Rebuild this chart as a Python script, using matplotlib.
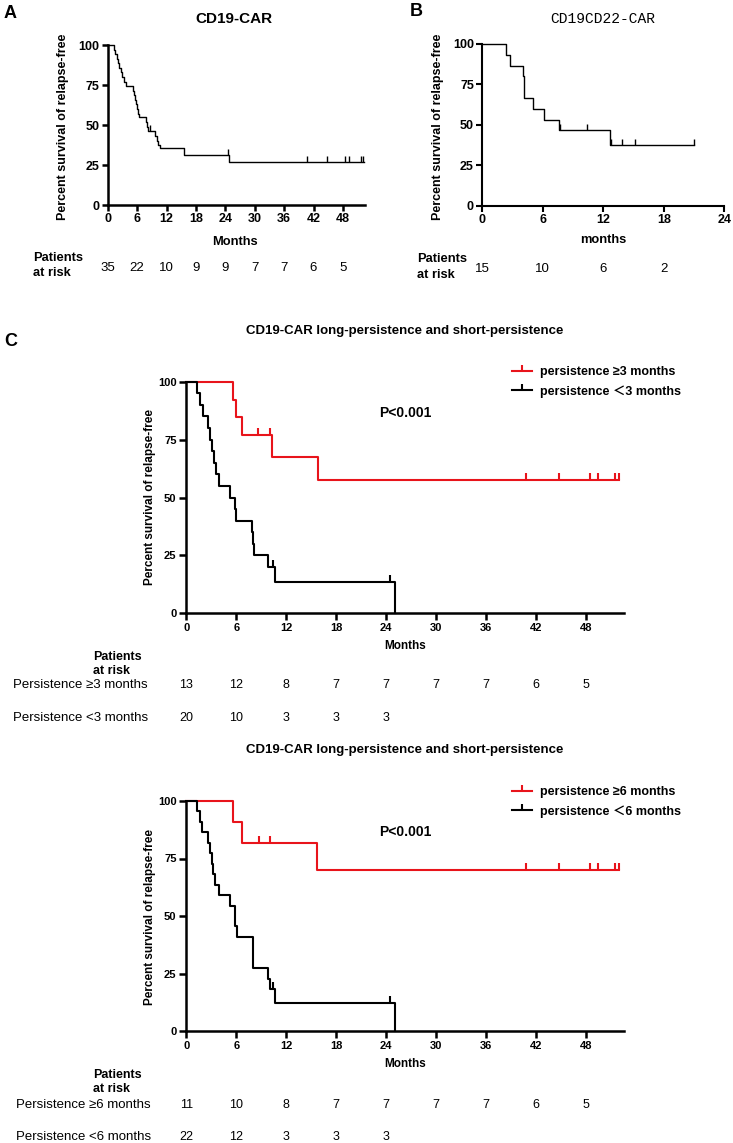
import numpy as np
import matplotlib
matplotlib.use("Agg")
import matplotlib.pyplot as plt
from matplotlib.lines import Line2D
from matplotlib.transforms import blended_transform_factory

plt.rcParams['font.family'] = ['Liberation Sans', 'Noto Sans CJK SC', 'DejaVu Sans']

# ---- data ----
# panel A: CD19-CAR (n=35)
a_times = [0, 1.2, 1.5, 1.8, 2.1, 2.4, 2.7, 3.0, 3.3, 3.7, 5.2, 5.4, 5.6, 5.8, 6.0, 6.2,
           6.45, 7.8, 8.0, 8.2, 9.7, 10.0, 10.3, 10.7, 15.5, 24.8]
a_surv = [100, 97.1, 94.3, 91.4, 88.6, 85.7, 82.9, 80.0, 77.1, 74.3, 71.4, 68.6, 65.7, 62.9,
          60.0, 57.1, 55.0, 51.8, 48.9, 46.0, 43.1, 40.2, 37.4, 35.4, 31.5, 27.0]
a_censor = [8.6, 24.5, 40.7, 44.7, 48.4, 49.3, 51.6, 52.1]
a_end = 52.3
a_risk = [35, 22, 10, 9, 9, 7, 7, 6, 5]

# panel B: CD19CD22-CAR (n=15)
b_times = [0, 2.35, 2.75, 4.0, 4.1, 4.15, 5.05, 6.15, 7.6, 12.7]
b_surv = [100, 93.3, 86.7, 80.0, 73.3, 66.7, 60.0, 53.3, 46.7, 37.3]
b_censor = [7.7, 10.4, 12.8, 13.9, 15.1, 21.0]
b_end = 21.0
b_risk = [15, 10, 6, 2]

# panel C (top): persistence >=3 vs <3 months
c1_long_times = [0, 5.6, 6.0, 6.7, 10.3, 15.8]
c1_long_surv = [100, 92.3, 84.6, 76.9, 67.3, 57.7]
c1_long_censor = [8.6, 10.0, 40.8, 44.7, 48.5, 49.4, 51.5, 51.9]
c1_short_times = [0, 1.3, 1.7, 1.95, 2.6, 2.87, 3.1, 3.3, 3.55, 3.9, 5.25, 5.8, 6.0, 7.9,
                  8.0, 8.1, 9.8, 10.7, 25.0]
c1_short_surv = [100, 95, 90, 85, 80, 75, 70, 65, 60, 55, 50, 45, 40, 35, 30, 25, 20, 13.3, 0]
c1_short_censor = [10.4, 24.5]
c1_risk_long = [13, 12, 8, 7, 7, 7, 7, 6, 5]
c1_risk_short = [20, 10, 3, 3, 3]

# panel C (bottom): persistence >=6 vs <6 months
c2_long_times = [0, 5.6, 6.7, 15.7]
c2_long_surv = [100, 90.9, 81.8, 70.1]
c2_long_censor = [8.7, 10.0, 40.8, 44.7, 48.5, 49.4, 51.5, 51.9]
c2_short_times = [0, 1.3, 1.65, 1.9, 2.55, 2.8, 3.05, 3.25, 3.4, 3.9, 5.2, 5.8, 5.85, 6.05,
                  7.95, 8.0, 8.05, 9.8, 10.1, 10.7, 25.0]
c2_short_surv = [100, 95.5, 90.9, 86.4, 81.8, 77.3, 72.7, 68.2, 63.6, 59.1, 54.5, 50.0, 45.5,
                 40.9, 36.4, 31.8, 27.3, 22.7, 18.2, 12.1, 0]
c2_short_censor = [10.4, 24.5]
c2_risk_long = [11, 10, 8, 7, 7, 7, 7, 6, 5]
c2_risk_short = [22, 12, 3, 3, 3]

W, H = 733, 1143
fig = plt.figure(figsize=(W / 100, H / 100), dpi=100)


def fx(px):
    return px / W


def fy(py):
    return 1 - py / H


def add_axes(x0, y_top, x1, y_bot):
    return fig.add_axes([fx(x0), fy(y_bot), fx(x1) - fx(x0), (y_bot - y_top) / H])


def km(ax, times, surv, end, censor, color, lw, ms):
    t = np.append(times, end)
    s = np.append(surv, surv[-1])
    ax.step(t, s, where='post', color=color, lw=lw, clip_on=False, zorder=3)
    idx = np.searchsorted(times, censor, side='right') - 1
    ax.plot(censor, np.array(surv)[idx], ls='none', marker=2, color=color,
            markersize=ms, markeredgewidth=lw, clip_on=False, zorder=3)


def style(ax, xmax, xticks, spine_w, tick_fs, tick_len):
    ax.set_xlim(0, xmax)
    ax.set_ylim(0, 100)
    ax.set_xticks(xticks)
    ax.set_yticks([0, 25, 50, 75, 100])
    for side in ['top', 'right']:
        ax.spines[side].set_visible(False)
    for side in ['left', 'bottom']:
        ax.spines[side].set_linewidth(spine_w)
    ax.tick_params(width=spine_w, length=tick_len, labelsize=tick_fs, pad=2)
    for lab in ax.get_xticklabels() + ax.get_yticklabels():
        lab.set_fontweight('bold')


def risk_row(ax, values, ypx, fs):
    tr = blended_transform_factory(ax.transData, fig.transFigure)
    for m, v in zip(range(0, 6 * len(values), 6), values):
        ax.text(m, fy(ypx), str(v), transform=tr, ha='center', va='center', fontsize=fs)


# ---------------- panel A ----------------
axA = add_axes(107.7, 45, 365, 205)
km(axA, a_times, a_surv, a_end, a_censor, 'black', 1.0, 4)
style(axA, 52.5, range(0, 49, 6), 1.8, 9, 4)
fig.text(fx(234), fy(19), 'CD19-CAR', ha='center', va='center', fontsize=11, fontweight='bold')
fig.text(fx(63), fy(127), 'Percent survival of relapse-free', rotation=90,
         ha='center', va='center', fontsize=9, fontweight='bold')
fig.text(fx(235), fy(242), 'Months', ha='center', va='center', fontsize=9.3, fontweight='bold')
fig.text(fx(33), fy(258), 'Patients', ha='left', va='center', fontsize=9.3, fontweight='bold')
fig.text(fx(33), fy(273), 'at risk', ha='left', va='center', fontsize=9.3, fontweight='bold')
risk_row(axA, a_risk, 268, 9.5)
fig.text(fx(4), fy(13), 'A', ha='left', va='center', fontsize=13, fontweight='bold')

# ---------------- panel B ----------------
axB = add_axes(482.3, 44, 724.3, 205.7)
km(axB, b_times, b_surv, b_end, b_censor, 'black', 1.0, 4)
style(axB, 24, range(0, 25, 6), 1.5, 9, 4)
fig.text(fx(603), fy(19), 'CD19CD22-CAR', ha='center', va='center', fontsize=10.5,
         family='Liberation Mono')
fig.text(fx(438), fy(127), 'Percent survival of relapse-free', rotation=90,
         ha='center', va='center', fontsize=9, fontweight='bold')
fig.text(fx(603), fy(240), 'months', ha='center', va='center', fontsize=9.3, fontweight='bold')
fig.text(fx(417), fy(259), 'Patients', ha='left', va='center', fontsize=9.3, fontweight='bold')
fig.text(fx(417), fy(275), 'at risk', ha='left', va='center', fontsize=9.3, fontweight='bold')
risk_row(axB, b_risk, 269, 9.5)
fig.text(fx(410), fy(11), 'B', ha='left', va='center', fontsize=13, fontweight='bold')

# ---------------- panel C ----------------
title_c = 'CD19-CAR long-persistence and short-persistence'
c_panels = [
    dict(top=381.7, bot=613.3, title_y=331, leg_y=355, p_y=413, ylab_y=497,
         months_y=646, pat_y=657, risk_y=(685, 718), lab_x=13, cut='3',
         long=(c1_long_times, c1_long_surv, c1_long_censor),
         short=(c1_short_times, c1_short_surv, c1_short_censor),
         risk=(c1_risk_long, c1_risk_short)),
    dict(top=801, bot=1031, title_y=750, leg_y=775, p_y=832, ylab_y=917,
         months_y=1064, pat_y=1075, risk_y=(1105, 1137), lab_x=16, cut='6',
         long=(c2_long_times, c2_long_surv, c2_long_censor),
         short=(c2_short_times, c2_short_surv, c2_short_censor),
         risk=(c2_risk_long, c2_risk_short)),
]

for p in c_panels:
    ax = add_axes(186.3, p['top'], 623.6, p['bot'])
    km(ax, *p['long'][:2], 52.0, p['long'][2], '#e8141b', 1.5, 5)
    km(ax, *p['short'][:2], 25.0, p['short'][2], 'black', 1.5, 5)
    style(ax, 52.5, range(0, 49, 6), 1.8, 8, 5)
    fig.text(fx(405), fy(p['title_y']), title_c, ha='center', va='center',
             fontsize=9.5, fontweight='bold')
    fig.text(fx(405), fy(p['p_y']), 'P<0.001', ha='center', va='center',
             fontsize=10, fontweight='bold')
    fig.text(fx(150), fy(p['ylab_y']), 'Percent survival of relapse-free', rotation=90,
             ha='center', va='center', fontsize=8.5, fontweight='bold')
    fig.text(fx(405), fy(p['months_y']), 'Months', ha='center', va='center',
             fontsize=8.5, fontweight='bold')
    fig.text(fx(93), fy(p['pat_y']), 'Patients', ha='left', va='center',
             fontsize=9, fontweight='bold')
    fig.text(fx(93), fy(p['pat_y'] + 14), 'at risk', ha='left', va='center',
             fontsize=9, fontweight='bold')
    fig.text(fx(p['lab_x']), fy(p['risk_y'][0]), 'Persistence \u2265' + p['cut'] + ' months',
             ha='left', va='center', fontsize=9.5)
    fig.text(fx(p['lab_x']), fy(p['risk_y'][1]), 'Persistence <' + p['cut'] + ' months',
             ha='left', va='center', fontsize=9.5)
    risk_row(ax, p['risk'][0], p['risk_y'][0], 9)
    risk_row(ax, p['risk'][1], p['risk_y'][1], 9)
    handles = [Line2D([], [], color='#e8141b', lw=1.5, marker=2, markersize=4, markeredgewidth=1.5),
               Line2D([], [], color='black', lw=1.5, marker=2, markersize=4, markeredgewidth=1.5)]
    labels = ['persistence \u2265' + p['cut'] + ' months',
              'persistence \uff1c' + p['cut'] + ' months']
    fig.legend(handles, labels, loc='upper left', bbox_to_anchor=(fx(501), fy(p['leg_y'])),
               frameon=False, numpoints=1, handlelength=1.6, handletextpad=0.6,
               labelspacing=0.55, prop=dict(size=9, weight='bold'))

fig.text(fx(4), fy(342), 'C', ha='left', va='center', fontsize=13, fontweight='bold')

fig.savefig('out.png', dpi=100)
